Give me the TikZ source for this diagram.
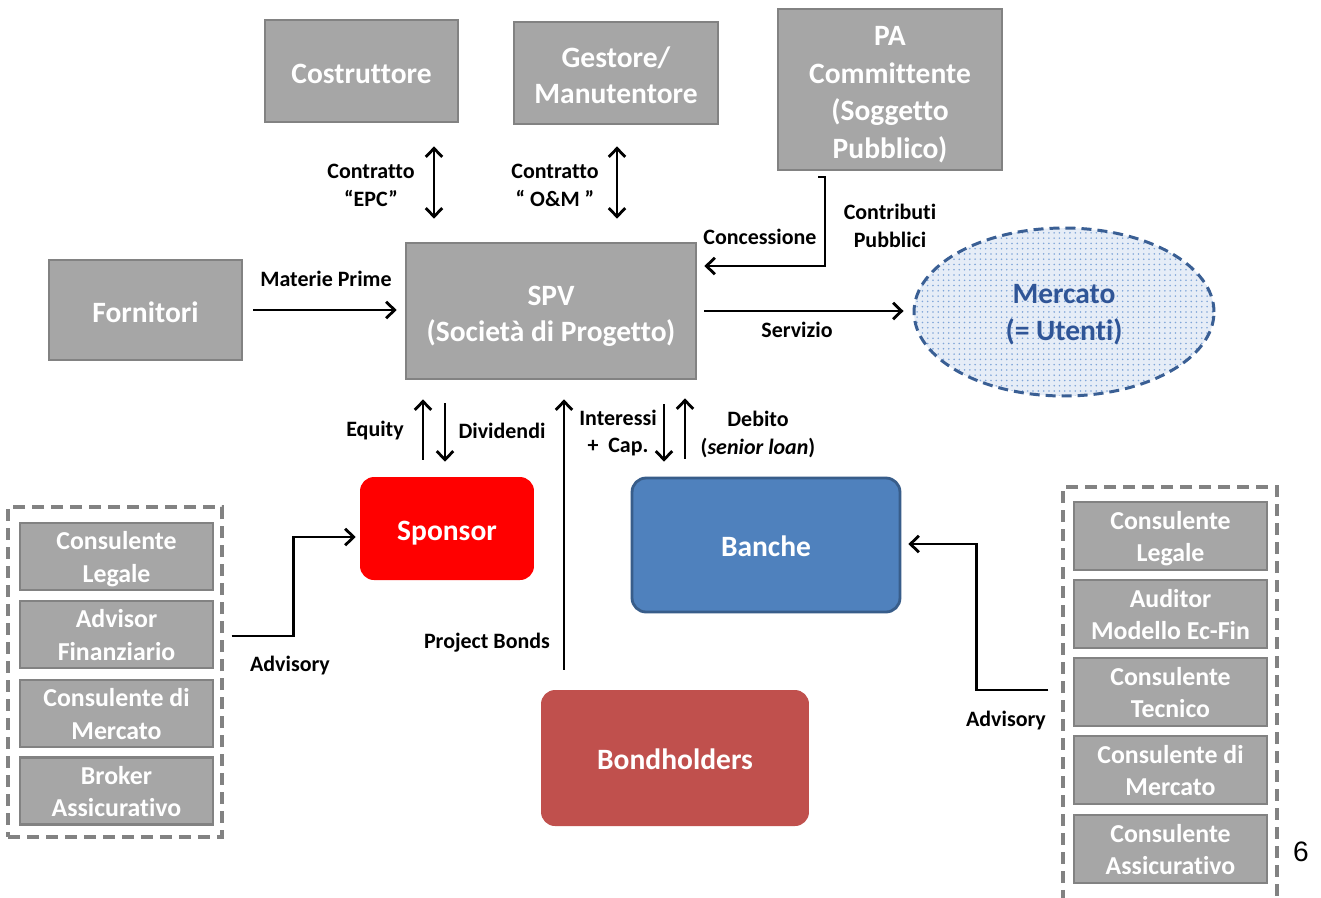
\documentclass[tikz,border=0pt]{standalone}
\usepackage{fontspec}
\setmainfont{Carlito}[Ligatures=NoCommon]
\newfontfamily\arialfont{Liberation Sans}
\usetikzlibrary{arrows.meta,calc,shapes.geometric,patterns}
\definecolor{boxgray}{HTML}{A6A6A6}
\definecolor{boxedge}{HTML}{828282}
\definecolor{spred}{HTML}{FF0000}
\definecolor{bankblue}{HTML}{4F81BD}
\definecolor{bankedge}{HTML}{385D8A}
\definecolor{bondred}{HTML}{C0504D}
\definecolor{mkttext}{HTML}{2F5597}
\definecolor{mktedge}{HTML}{3A5F94}
\definecolor{mktfill}{HTML}{E6EDF7}
\definecolor{mktdot}{HTML}{7FA5D8}
\begin{document}
\begin{tikzpicture}[x=0.02cm,y=-0.02cm,
 bigfont/.style={font=\fontsize{16.8pt}{21pt}\selectfont\bfseries},
 smallfont/.style={font=\fontsize{14.7pt}{18.7pt}\selectfont\bfseries},
 lblfont/.style={font=\fontsize{12.5pt}{15.9pt}\selectfont\bfseries},
 graybox/.style={draw=boxedge, line width=1.6pt, fill=boxgray, text=white, align=center, inner sep=0pt, bigfont, text height=14.2pt, text depth=0pt},
 twoline/.style={text height=35.2pt},
 smallbox/.style={graybox, smallfont, minimum width=3.86cm, text height=29.5pt, text depth=0pt},
 roundbox/.style={rounded corners=0.28cm, text=white, align=center, inner sep=0pt, bigfont, text height=13.6pt, text depth=0pt},
 lbl/.style={lblfont, align=center, inner sep=0pt, text=black},
 arr/.style={line width=1.6pt, -{Straight Barb[length=1.7mm,width=3.3mm]}},
 dbl/.style={line width=1.6pt, {Straight Barb[length=1.7mm,width=3.3mm]}-{Straight Barb[length=1.7mm,width=3.3mm]}},
 group/.style={draw=boxedge, line width=1.9pt, dash pattern=on 0.24cm off 0.14cm, inner sep=0pt}
]
\clip (0,0) rectangle (1321,897);
\fill[white] (0,0) rectangle (1321,897);

% main boxes
\node[graybox, minimum width=3.86cm, minimum height=2.04cm] (Cost) at (361.5,71) {Costruttore};
\node[graybox, twoline, minimum width=4.08cm, minimum height=2.04cm] (Gest) at (616,73) {Gestore/\\Manutentore};
\node[graybox, minimum width=4.48cm, minimum height=3.22cm, font=\fontsize{16.8pt}{21.6pt}\selectfont\bfseries, text height=79pt] (PA) at (890,89.5) {PA\\Committente\\(Soggetto\\Pubblico)};
\node[graybox, twoline, minimum width=5.8cm, minimum height=2.72cm] (SPV) at (551,311) {SPV\\(Società di Progetto)};
\node[graybox, minimum width=3.86cm, minimum height=2.0cm] (Forn) at (145.5,310) {Fornitori};
\node[ellipse, draw=mktedge, line width=1.7pt, dash pattern=on 0.2cm off 0.12cm,
      preaction={fill=mktfill}, pattern=dots, pattern color=mktdot,
      minimum width=6.0cm, minimum height=3.36cm, inner sep=0pt,
      text=mkttext, align=center, bigfont, text height=32.4pt, text depth=0pt] (Merc) at (1064,312) {Mercato\\(= Utenti)};
\node[roundbox, fill=spred, minimum width=3.48cm, minimum height=2.06cm] (Spon) at (447,528.5) {Sponsor};
\node[roundbox, fill=bankblue, draw=bankedge, line width=1.6pt, minimum width=5.36cm, minimum height=2.68cm] (Banche) at (766,545) {Banche};
\node[roundbox, fill=bondred, minimum width=5.36cm, minimum height=2.72cm] (Bond) at (675,758) {Bondholders};

% left group
\node[group, minimum width=4.28cm, minimum height=6.6cm] (LG) at (115,672) {};
\node[smallbox, minimum height=1.34cm] (L1) at (116.5,556.5) {Consulente\\Legale};
\node[smallbox, minimum height=1.34cm] (L2) at (116.5,634.5) {Advisor\\Finanziario};
\node[smallbox, minimum height=1.34cm] (L3) at (116.5,713.5) {Consulente di\\Mercato};
\node[smallbox, minimum height=1.34cm] (L4) at (116.5,791) {Broker\\Assicurativo};

% right group
\node[group, minimum width=4.28cm, minimum height=8.46cm] (RG) at (1170,698.5) {};
\node[smallbox, minimum height=1.36cm] (R1) at (1170.5,536) {Consulente\\Legale};
\node[smallbox, minimum height=1.36cm] (R2) at (1170.5,614) {Auditor\\Modello Ec-Fin};
\node[smallbox, minimum height=1.36cm] (R3) at (1170.5,692) {Consulente\\Tecnico};
\node[smallbox, minimum height=1.36cm] (R4) at (1170.5,770) {Consulente di\\Mercato};
\node[smallbox, minimum height=1.36cm] (R5) at (1170.5,849) {Consulente\\Assicurativo};

% x positions for vertical connectors
\coordinate (x434) at (434,0);
\coordinate (x617) at (617,0);
\coordinate (x423) at (423,0);
\coordinate (x445) at (445,0);
\coordinate (x564) at (564,0);
\coordinate (x664) at (664,0);
\coordinate (x685) at (685,0);
\coordinate (paout) at (825,177);

% connectors
\draw[dbl, shorten <=0.46cm, shorten >=0.46cm] (Cost.south -| x434) -- (SPV.north -| x434);
\draw[dbl, shorten <=0.42cm, shorten >=0.46cm] (Gest.south -| x617) -- (SPV.north -| x617);
\draw[arr] ($(paout)+(-7,0)$) -- (paout) |- ($(SPV.east)+(7,-45)$);
\draw[arr, shorten <=0.2cm, shorten >=0.16cm] (Forn.east) -- (Forn.east -| SPV.west);
\draw[arr, shorten <=0.14cm, shorten >=0.18cm] (SPV.east) -- (SPV.east -| Merc.west);
\draw[arr, shorten <=0.34cm, shorten >=0.38cm] (Spon.north -| x423) -- (SPV.south -| x423);
\draw[arr, shorten <=0.46cm, shorten >=0.3cm] (SPV.south -| x445) -- (Spon.north -| x445);
\draw[arr, shorten <=0.4cm, shorten >=0.38cm] (Bond.north -| x564) -- (SPV.south -| x564);
\draw[arr, shorten <=0.48cm, shorten >=0.3cm] (SPV.south -| x664) -- (Banche.north -| x664);
\draw[arr, shorten <=0.36cm, shorten >=0.36cm] (Banche.north -| x685) -- (SPV.south -| x685);
\draw[arr] ($(LG.east)+(8,-36)$) -- ++(62,0) |- ($(Spon.west)+(-4,8.5)$);
\draw[arr] ($(RG.west)+(-13,-8.5)$) -- ++(-72,0) |- ($(Banche.east)+(7,-1)$);

% labels
\node[lbl] (lEPC) at (371,185) {Contratto\\“EPC”};
\node[lbl] (lOM) at (555,185) {Contratto\\“ O\&M ”};
\node[lbl] (lConc) at (760,237) {Concessione};
\node[lbl] (lContr) at (890,226) {Contributi\\Pubblici};
\node[lbl] (lMat) at (326,279) {Materie Prime};
\node[lbl] (lServ) at (797,330) {Servizio};
\node[lbl] (lEq) at (375,431) {Equity};
\node[lbl] (lDiv) at (502,431) {Dividendi};
\node[lbl] (lInt) at (618,433) {Interessi\\+\ \ Cap.};
\node[lbl] (lDeb) at (758,434) {Debito\\(\textit{senior loan})};
\node[lbl] (lPB) at (487,643) {Project Bonds};
\node[lbl] (lAdvL) at (290,666) {Advisory};
\node[lbl] (lAdvR) at (1006,721) {Advisory};
\node[inner sep=0pt, font=\arialfont\fontsize{16pt}{18pt}\selectfont] (pg) at (1301,852) {6};
\end{tikzpicture}
\end{document}
